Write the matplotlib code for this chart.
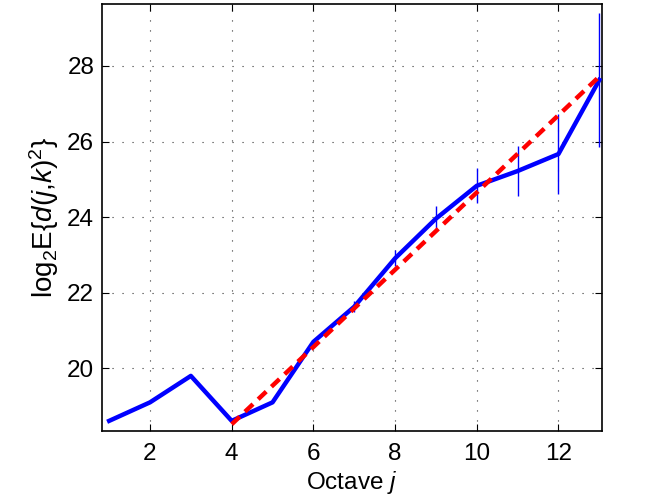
import matplotlib
matplotlib.use("Agg")
import matplotlib.pyplot as plt

# Data
octave = [1, 2, 3, 4, 5, 6, 7, 8, 9, 10, 11, 12, 13]
log_energy = [18.61, 19.10, 19.80, 18.61, 19.10, 20.70, 21.63, 22.91, 23.96, 24.83, 25.22, 25.67, 27.63]
err = [0, 0, 0, 0, 0, 0, 0.15, 0.21, 0.33, 0.46, 0.66, 1.05, 1.78]
fit_x = [4, 13]
fit_y = [18.52, 27.72]

plt.rcParams['font.family'] = ['Liberation Sans', 'DejaVu Sans']
plt.rcParams['mathtext.fontset'] = 'custom'
plt.rcParams['mathtext.rm'] = 'Liberation Sans'
plt.rcParams['mathtext.it'] = 'Liberation Sans:italic'
plt.rcParams['mathtext.bf'] = 'Liberation Sans:bold'

fig = plt.figure(figsize=(6.61, 4.97), dpi=100)
ax = fig.add_axes([0.154, 0.1334, 0.757, 0.8586])

ax.errorbar(octave, log_energy, yerr=err, fmt='none', ecolor='#0000ff',
            elinewidth=1.0, capsize=0, zorder=2)
ax.plot(octave, log_energy, color='#0000ff', linewidth=3.2, zorder=3)
ax.plot(fit_x, fit_y, color='#ff0000', linewidth=3.2, dashes=[2.5, 1.6], zorder=4)

ax.set_xlim(0.82, 13.07)
ax.set_ylim(18.35, 29.64)
ax.set_xticks([2, 4, 6, 8, 10, 12])
ax.set_yticks([20, 22, 24, 26, 28])

ax.grid(True, color='#333333', linestyle=(0, (1, 8)), linewidth=0.8)
ax.tick_params(direction='in', length=5, width=0.8, labelsize=17.5,
               top=True, right=True)
ax.tick_params(axis='y', pad=5.5)
ax.tick_params(axis='x', pad=9)
for s in ax.spines.values():
    s.set_linewidth(1.2)

ax.set_xlabel('Octave $j$', fontsize=17.5, labelpad=3)
ax.set_ylabel(r'log$_2$E{$d$($j$,$k$)$^2$}', fontsize=20, labelpad=4)

fig.savefig('out.png', dpi=100)
